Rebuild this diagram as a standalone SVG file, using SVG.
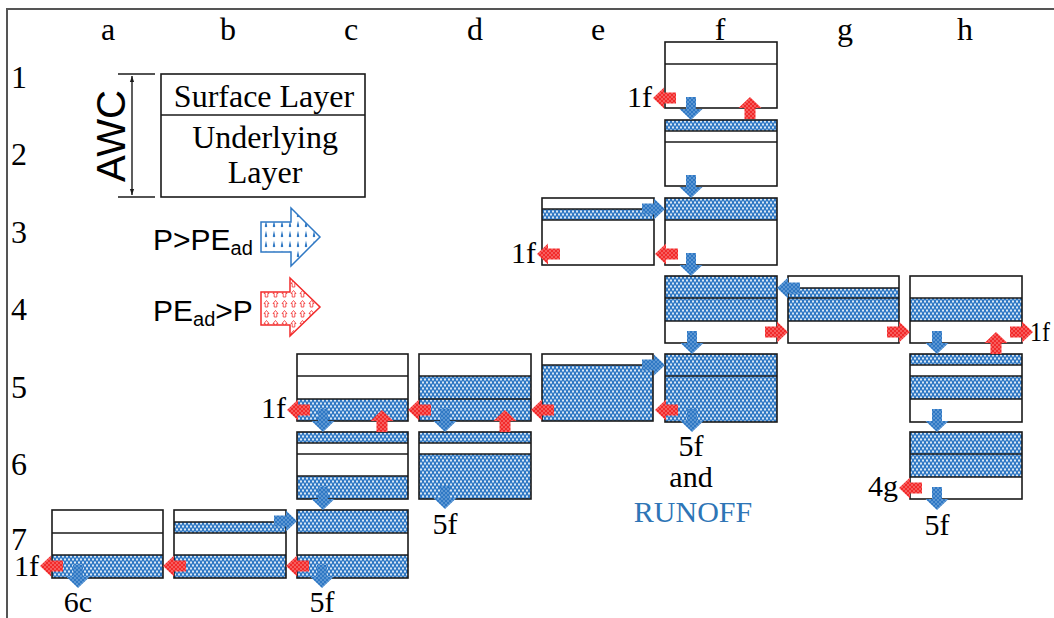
<svg xmlns="http://www.w3.org/2000/svg" xmlns:xlink="http://www.w3.org/1999/xlink" width="1054" height="618" viewBox="0 0 1054 618">
<style>
.bx{fill:none;stroke:#1a1a1a;stroke-width:1.6}
.ln{stroke:#1a1a1a;stroke-width:1.6}
.w{fill:url(#pb);stroke:none}
.lab{font-family:"Liberation Serif","Times New Roman",serif;font-size:32px;fill:#000}
.sm{font-family:"Liberation Serif","Times New Roman",serif;font-size:30px;fill:#000}
.sans{font-family:"Liberation Sans",Arial,sans-serif;fill:#000}
.b{fill:url(#pba)}
.r{fill:url(#pr)}
</style>
<defs>
<pattern id="pb" width="4" height="6" patternUnits="userSpaceOnUse">
<rect width="4" height="6" fill="#2f78c4"/>
<ellipse cx="1" cy="1.5" rx="0.9" ry="1.35" fill="#fff" opacity="0.9"/>
<ellipse cx="3" cy="4.5" rx="0.9" ry="1.35" fill="#fff" opacity="0.9"/>
</pattern>
<pattern id="pba" width="4" height="4" patternUnits="userSpaceOnUse">
<rect width="4" height="4" fill="#2f78c4"/>
<circle cx="1" cy="1" r="0.7" fill="#a8cbee"/>
<circle cx="3" cy="3" r="0.7" fill="#a8cbee"/>
</pattern>
<pattern id="pr" width="4" height="4" patternUnits="userSpaceOnUse">
<rect width="4" height="4" fill="#f22a2a"/>
<circle cx="1" cy="1" r="0.7" fill="#ffb8b8"/>
<circle cx="3" cy="3" r="0.7" fill="#ffb8b8"/>
</pattern>
<pattern id="drop" x="262" y="209" width="8" height="10" patternUnits="userSpaceOnUse">
<path d="M4,1.5 L5.1,6.5 A1.2,1.2 0 1 1 2.9,6.5 Z" fill="#2f78c4"/>
</pattern>
<pattern id="uparr" x="262" y="279" width="9" height="10" patternUnits="userSpaceOnUse">
<path d="M4.5,1.5 L7,4.5 H5.8 V8 H3.2 V4.5 H2 Z" fill="none" stroke="#f22a2a" stroke-width="0.8"/>
</pattern>
<path id="ad" d="M-5,0 H5 V12 H11.5 L0,23 L-11.5,12 H-5 Z"/>
<path id="au" d="M0,0 L11.5,11 H5.5 V22 H-5.5 V11 H-11.5 Z"/>
<path id="al" d="M0,0 L11,-10.5 V-5.5 H23 V5.5 H11 V10.5 Z"/>
<path id="ar" d="M0,0 L-11,-10.5 V-5.5 H-23 V5.5 H-11 V10.5 Z"/>
<marker id="tri" viewBox="0 0 10 10" refX="10" refY="5" markerWidth="6" markerHeight="8" orient="auto-start-reverse" markerUnits="userSpaceOnUse">
<path d="M0,1.5 L10,5 L0,8.5 Z" fill="#1a1a1a"/>
</marker>
</defs>
<rect width="1054" height="618" fill="#fff"/>
<g id="frame">
<path d="M7,618 V9 H1054" fill="none" stroke="#555" stroke-width="2"/>
</g>
<g id="axes" class="lab" text-anchor="middle">
<text x="108" y="40">a</text>
<text x="228" y="40">b</text>
<text x="351" y="40">c</text>
<text x="475" y="40">d</text>
<text x="598" y="40">e</text>
<text x="720" y="40">f</text>
<text x="845" y="40">g</text>
<text x="965" y="40">h</text>
<text x="19" y="88">1</text>
<text x="19" y="165">2</text>
<text x="19" y="243">3</text>
<text x="19" y="320">4</text>
<text x="19" y="398">5</text>
<text x="19" y="475">6</text>
<text x="19" y="550">7</text>
</g>
<g id="legend">
<line x1="118" y1="74" x2="155" y2="74" class="ln"/>
<line x1="118" y1="197" x2="155" y2="197" class="ln"/>
<line x1="132" y1="76" x2="132" y2="195" stroke="#1a1a1a" stroke-width="1.4" marker-start="url(#tri)" marker-end="url(#tri)"/>
<text class="sans" font-size="40" text-anchor="middle" textLength="92" lengthAdjust="spacingAndGlyphs" transform="translate(125,136) rotate(-90)">AWC</text>
<rect x="161" y="74" width="204" height="123" class="bx"/>
<line x1="161" y1="115" x2="365" y2="115" class="ln"/>
<text class="lab" x="264" y="107" text-anchor="middle">Surface Layer</text>
<text class="lab" x="265" y="148" text-anchor="middle">Underlying</text>
<text class="lab" x="265" y="183" text-anchor="middle">Layer</text>
<text class="sans" x="153" y="250" font-size="30">P&gt;PE<tspan font-size="20" dy="5">ad</tspan></text>
<path d="M261,222 H291 V208 L320,237 L291,266 V252 H261 Z" fill="url(#drop)" stroke="#2f78c4" stroke-width="1.5"/>
<text class="sans" x="153" y="321" font-size="30">PE<tspan font-size="20" dy="5">ad</tspan><tspan dy="-5">&gt;P</tspan></text>
<path d="M261,292 H290 V278 L320,307 L290,336 V325 H261 Z" fill="url(#uparr)" stroke="#f22a2a" stroke-width="1.5"/>
</g>
<g id="f1"><rect x="665" y="42" width="112" height="66" class="bx"/><line x1="665" y1="64" x2="777" y2="64" class="ln"/></g>
<g id="f2"><rect x="665" y="120" width="112" height="11" class="w"/><rect x="665" y="120" width="112" height="66" class="bx"/><line x1="665" y1="131" x2="777" y2="131" class="ln"/><line x1="665" y1="142" x2="777" y2="142" class="ln"/></g>
<g id="e3"><rect x="542" y="209" width="112" height="11" class="w"/><rect x="542" y="198" width="112" height="67" class="bx"/><line x1="542" y1="209" x2="654" y2="209" class="ln"/><line x1="542" y1="220" x2="654" y2="220" class="ln"/></g>
<g id="f3"><rect x="665" y="198" width="112" height="22" class="w"/><rect x="665" y="198" width="112" height="67" class="bx"/><line x1="665" y1="220" x2="777" y2="220" class="ln"/></g>
<g id="f4"><rect x="665" y="276" width="112" height="45" class="w"/><rect x="665" y="276" width="112" height="67" class="bx"/><line x1="665" y1="298" x2="777" y2="298" class="ln"/><line x1="665" y1="321" x2="777" y2="321" class="ln"/></g>
<g id="g4"><rect x="788" y="288" width="111" height="33" class="w"/><rect x="788" y="276" width="111" height="67" class="bx"/><line x1="788" y1="288" x2="899" y2="288" class="ln"/><line x1="788" y1="298" x2="899" y2="298" class="ln"/><line x1="788" y1="321" x2="899" y2="321" class="ln"/></g>
<g id="h4"><rect x="910" y="298" width="112" height="23" class="w"/><rect x="910" y="276" width="112" height="67" class="bx"/><line x1="910" y1="298" x2="1022" y2="298" class="ln"/><line x1="910" y1="321" x2="1022" y2="321" class="ln"/></g>
<g id="c5"><rect x="297" y="399" width="111" height="22" class="w"/><rect x="297" y="354" width="111" height="67" class="bx"/><line x1="297" y1="376" x2="408" y2="376" class="ln"/><line x1="297" y1="399" x2="408" y2="399" class="ln"/></g>
<g id="d5"><rect x="419" y="376" width="112" height="45" class="w"/><rect x="419" y="354" width="112" height="67" class="bx"/><line x1="419" y1="376" x2="531" y2="376" class="ln"/><line x1="419" y1="399" x2="531" y2="399" class="ln"/></g>
<g id="e5"><rect x="542" y="365" width="111" height="56" class="w"/><rect x="542" y="354" width="111" height="67" class="bx"/><line x1="542" y1="365" x2="653" y2="365" class="ln"/></g>
<g id="f5"><rect x="665" y="354" width="112" height="68" class="w"/><rect x="665" y="354" width="112" height="68" class="bx"/><line x1="665" y1="376" x2="777" y2="376" class="ln"/></g>
<g id="h5"><rect x="910" y="354" width="112" height="11" class="w"/><rect x="910" y="376" width="112" height="23" class="w"/><rect x="910" y="354" width="112" height="68" class="bx"/><line x1="910" y1="365" x2="1022" y2="365" class="ln"/><line x1="910" y1="376" x2="1022" y2="376" class="ln"/><line x1="910" y1="399" x2="1022" y2="399" class="ln"/></g>
<g id="c6"><rect x="297" y="432" width="111" height="11" class="w"/><rect x="297" y="476" width="111" height="23" class="w"/><rect x="297" y="432" width="111" height="67" class="bx"/><line x1="297" y1="443" x2="408" y2="443" class="ln"/><line x1="297" y1="454" x2="408" y2="454" class="ln"/><line x1="297" y1="476" x2="408" y2="476" class="ln"/></g>
<g id="d6"><rect x="419" y="432" width="112" height="11" class="w"/><rect x="419" y="454" width="112" height="45" class="w"/><rect x="419" y="432" width="112" height="67" class="bx"/><line x1="419" y1="443" x2="531" y2="443" class="ln"/><line x1="419" y1="454" x2="531" y2="454" class="ln"/></g>
<g id="h6"><rect x="910" y="432" width="112" height="45" class="w"/><rect x="910" y="432" width="112" height="67" class="bx"/><line x1="910" y1="454" x2="1022" y2="454" class="ln"/><line x1="910" y1="477" x2="1022" y2="477" class="ln"/></g>
<g id="a7"><rect x="52" y="555" width="111" height="23" class="w"/><rect x="52" y="510" width="111" height="68" class="bx"/><line x1="52" y1="533" x2="163" y2="533" class="ln"/><line x1="52" y1="555" x2="163" y2="555" class="ln"/></g>
<g id="b7"><rect x="174" y="522" width="112" height="11" class="w"/><rect x="174" y="555" width="112" height="23" class="w"/><rect x="174" y="510" width="112" height="68" class="bx"/><line x1="174" y1="522" x2="286" y2="522" class="ln"/><line x1="174" y1="533" x2="286" y2="533" class="ln"/><line x1="174" y1="555" x2="286" y2="555" class="ln"/></g>
<g id="c7"><rect x="297" y="510" width="111" height="23" class="w"/><rect x="297" y="555" width="111" height="23" class="w"/><rect x="297" y="510" width="111" height="68" class="bx"/><line x1="297" y1="533" x2="408" y2="533" class="ln"/><line x1="297" y1="555" x2="408" y2="555" class="ln"/></g>
<g id="connectors">
<use href="#ad" x="691" y="97" class="b"/>
<use href="#ad" x="691" y="175" class="b"/>
<use href="#ad" x="691" y="253" class="b"/>
<use href="#ad" x="692" y="331" class="b"/>
<use href="#ad" x="692" y="409" class="b"/>
<use href="#ad" x="937" y="331" class="b"/>
<use href="#ad" x="937" y="409" class="b"/>
<use href="#ad" x="937" y="487" class="b"/>
<use href="#ad" x="323" y="409" class="b"/>
<use href="#ad" x="445" y="409" class="b"/>
<use href="#ad" x="323" y="487" class="b"/>
<use href="#ad" x="445" y="486" class="b"/>
<use href="#ad" x="78" y="565" class="b"/>
<use href="#ad" x="322" y="565" class="b"/>
<use href="#au" x="750" y="97" class="r"/>
<use href="#au" x="996" y="332" class="r"/>
<use href="#au" x="382" y="410" class="r"/>
<use href="#au" x="505" y="410" class="r"/>
<use href="#al" x="653" y="98" class="r"/>
<use href="#al" x="537" y="254" class="r"/>
<use href="#al" x="655" y="254" class="r"/>
<use href="#al" x="287" y="410" class="r"/>
<use href="#al" x="408" y="410" class="r"/>
<use href="#al" x="531" y="410" class="r"/>
<use href="#al" x="655" y="410" class="r"/>
<use href="#al" x="899" y="488" class="r"/>
<use href="#al" x="40" y="566" class="r"/>
<use href="#al" x="163" y="566" class="r"/>
<use href="#al" x="286" y="566" class="r"/>
<use href="#ar" x="788" y="332" class="r"/>
<use href="#ar" x="910" y="332" class="r"/>
<use href="#ar" x="1033" y="332" class="r"/>
<use href="#ar" x="665" y="209" class="b"/>
<use href="#ar" x="665" y="365" class="b"/>
<use href="#ar" x="297" y="521" class="b"/>
<use href="#al" x="777" y="288" class="b"/>
</g>
<g id="labels" class="sm">
<text x="652" y="107" text-anchor="end">1f</text>
<text x="536" y="263" text-anchor="end">1f</text>
<text x="1030" y="341" font-size="28" textLength="20" lengthAdjust="spacingAndGlyphs">1f</text>
<text x="286" y="418" text-anchor="end">1f</text>
<text x="39" y="576" text-anchor="end">1f</text>
<text x="898" y="496" text-anchor="end">4g</text>
<text x="937" y="535" text-anchor="middle">5f</text>
<text x="691" y="456" text-anchor="middle">5f</text>
<text x="691" y="487" text-anchor="middle">and</text>
<text x="693" y="522" text-anchor="middle" style="fill:#2e75b6">RUNOFF</text>
<text x="445" y="534" text-anchor="middle">5f</text>
<text x="78" y="612" text-anchor="middle">6c</text>
<text x="322" y="612" text-anchor="middle">5f</text>
</g>
</svg>
